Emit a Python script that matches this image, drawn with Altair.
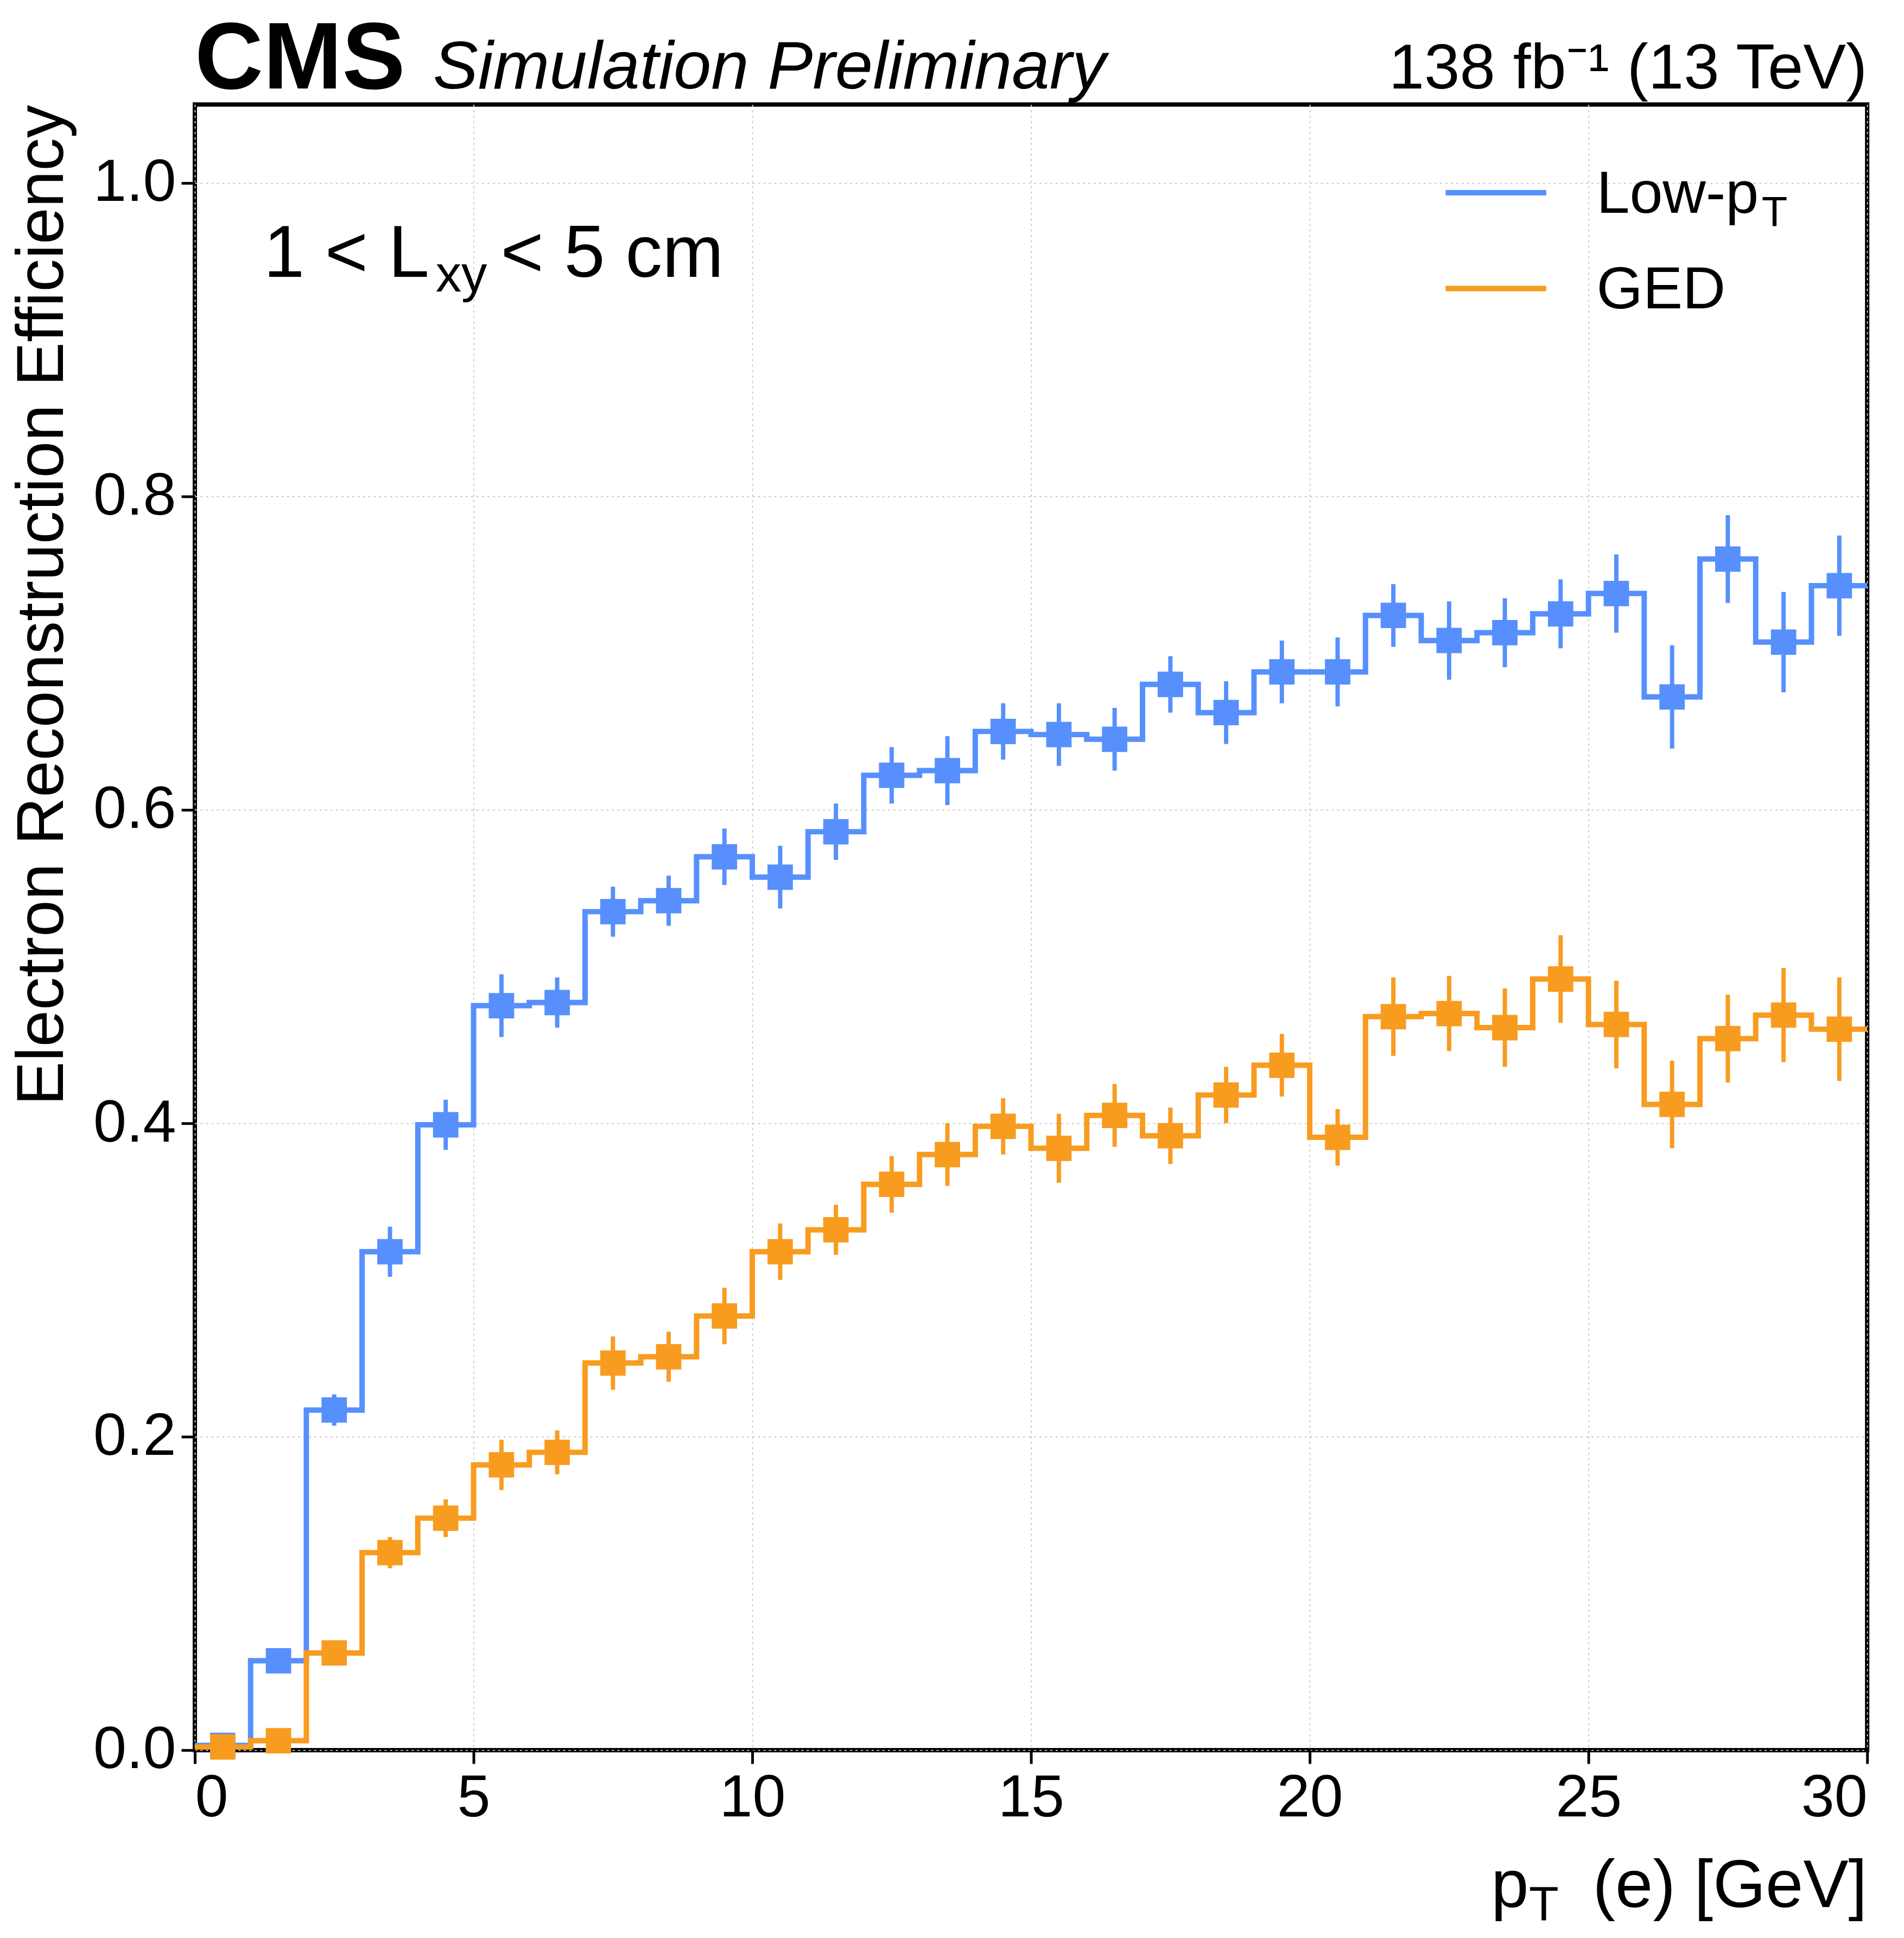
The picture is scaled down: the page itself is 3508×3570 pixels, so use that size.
import pandas as pd
import altair as alt

edges = list(range(31))
centers = [e + 0.5 for e in range(30)]
lowpt = [0.003, 0.057, 0.217, 0.318, 0.399, 0.475, 0.477, 0.535, 0.542, 0.570,
         0.557, 0.586, 0.622, 0.625, 0.650, 0.648, 0.645, 0.680, 0.662, 0.688,
         0.688, 0.724, 0.708, 0.713, 0.725, 0.738, 0.672, 0.760, 0.707, 0.743]
lowpt_err = [0.003, 0.005, 0.010, 0.016, 0.016, 0.020, 0.016, 0.016, 0.016, 0.018,
             0.020, 0.018, 0.018, 0.022, 0.018, 0.020, 0.020, 0.018, 0.020, 0.020,
             0.022, 0.020, 0.025, 0.022, 0.022, 0.025, 0.033, 0.028, 0.032, 0.032]
ged = [0.002, 0.006, 0.062, 0.126, 0.148, 0.182, 0.190, 0.247, 0.251, 0.277,
       0.318, 0.332, 0.361, 0.380, 0.398, 0.384, 0.405, 0.392, 0.418, 0.437,
       0.391, 0.468, 0.470, 0.461, 0.492, 0.463, 0.412, 0.454, 0.469, 0.460]
ged_err = [0.002, 0.003, 0.005, 0.010, 0.012, 0.016, 0.014, 0.017, 0.016, 0.018,
           0.018, 0.016, 0.018, 0.020, 0.018, 0.022, 0.020, 0.018, 0.018, 0.020,
           0.018, 0.025, 0.024, 0.025, 0.028, 0.028, 0.028, 0.028, 0.030, 0.033]

BLUE = "#5790fc"
ORANGE = "#f89c20"
FONT = "Liberation Sans"
W, H = 3090, 3040

pts = pd.DataFrame({
    "x": centers * 2,
    "y": lowpt + ged,
    "lo": [v - e for v, e in zip(lowpt, lowpt_err)] + [v - e for v, e in zip(ged, ged_err)],
    "hi": [v + e for v, e in zip(lowpt, lowpt_err)] + [v + e for v, e in zip(ged, ged_err)],
    "s": ["Low-pT"] * 30 + ["GED"] * 30,
})
steps = pd.DataFrame({
    "x": edges * 2,
    "y": lowpt + [lowpt[-1]] + ged + [ged[-1]],
    "s": ["Low-pT"] * 31 + ["GED"] * 31,
})

col = alt.Color("s:N", scale=alt.Scale(domain=["Low-pT", "GED"], range=[BLUE, ORANGE]), legend=None)
xs = alt.Scale(domain=[0, 30], nice=False)
ys = alt.Scale(domain=[0, 1.05], nice=False)

xax = alt.X("x:Q", scale=xs, axis=alt.Axis(values=[0, 5, 10, 15, 20, 25, 30], title=None,
            labelFontSize=110, labelPadding=10, tickSize=25, tickWidth=5, format="d"))
yax = alt.Y("y:Q", scale=ys, axis=alt.Axis(values=[0, 0.2, 0.4, 0.6, 0.8, 1.0], format=".1f",
            title="Electron Reconstruction Efficiency", titleFontSize=122, titleFontWeight="normal",
            titleAnchor="end", titlePadding=30, labelFontSize=110, labelPadding=10,
            tickSize=25, tickWidth=5))

line = alt.Chart(steps).mark_line(interpolate="step-after", strokeWidth=10).encode(
    x=xax, y=yax, color=col, detail="s:N")
err = alt.Chart(pts).mark_rule(strokeWidth=8).encode(
    x=alt.X("x:Q", scale=xs), y=alt.Y("lo:Q", scale=ys), y2="hi:Q", color=col)
mk = alt.Chart(pts).mark_square(size=2200, opacity=1).encode(
    x=alt.X("x:Q", scale=xs), y=alt.Y("y:Q", scale=ys), color=col)


def txt(t, x, y, size, align="left", weight="normal", style="normal", baseline="alphabetic"):
    return alt.Chart(pd.DataFrame({"t": [t]})).mark_text(
        font=FONT, fontSize=size, align=align, fontWeight=weight, fontStyle=style,
        baseline=baseline, color="black").encode(text="t:N", x=alt.value(x), y=alt.value(y))


def leg(color, y):
    return alt.Chart(pd.DataFrame({"c": [color]})).mark_rule(strokeWidth=10, color=color).encode(
        x=alt.value(2311), x2=alt.value(2497), y=alt.value(y))


deco = (
    txt("CMS", 0, -30, 175, weight="bold")
    + txt("Simulation Preliminary", 440, -30, 125, style="italic")
    + txt("138 fb⁻¹ (13 TeV)", W, -30, 118, align="right")
    + txt("1 < L", 127, 318, 136)
    + txt("xy", 445, 345, 95)
    + txt("< 5 cm", 565, 318, 136)
    + leg(BLUE, 163) + leg(ORANGE, 340)
    + txt("Low-p", 2590, 200, 110)
    + txt("T", 2895, 225, 78)
    + txt("GED", 2590, 377, 110)
    + txt("p", 2395, H + 290, 125)
    + txt("T", 2465, H + 315, 90)
    + txt("(e) [GeV]", W, H + 290, 125, align="right")
)

chart = (line + err + mk + deco).properties(
    width=W, height=H, padding={"left": 10, "top": 10, "right": 40, "bottom": 10}
).configure_view(
    stroke="black", strokeWidth=8
).configure_axis(
    grid=True, gridDash=[4, 6], gridColor="#cccccc", gridWidth=2,
    labelFont=FONT, titleFont=FONT, labelColor="black", titleColor="black",
    domain=False, tickColor="black")

chart.save("out.html", embed_options={"renderer": "svg", "actions": False})
